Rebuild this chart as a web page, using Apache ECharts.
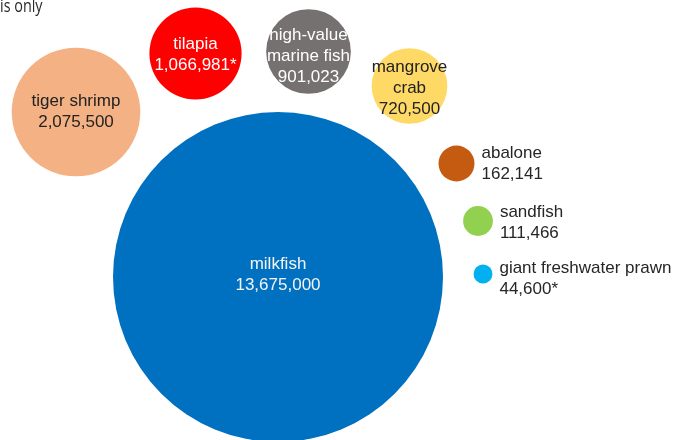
<!DOCTYPE html>
<html>
<head>
<meta charset="utf-8">
<script src="https://cdn.jsdelivr.net/npm/echarts@6/dist/echarts.min.js"></script>
<style>
  html, body { margin: 0; padding: 0; background: #ffffff; }
  #chart { width: 686px; height: 440px; }
</style>
</head>
<body>
<div id="chart"></div>
<script>
// Aquaculture production by species (values as published; * marks estimates)
const species = ['milkfish', 'tiger shrimp', 'tilapia', 'high-value\nmarine fish', 'mangrove\ncrab', 'abalone', 'sandfish', 'giant freshwater prawn'];
const production = [13675000, 2075500, 1066981, 901023, 720500, 162141, 111466, 44600];
const marks = ['', '', '*', '', '', '', '', '*'];

// Bubble layout: centre of each bubble in the plot's layout units
const layoutX = [278, 76, 195.5, 308.5, 409.5, 456.5, 478, 483];
const layoutY = [277, 112, 53.5, 51.5, 86, 163.5, 221, 274];
const fills = ['#0070C0', '#F4B183', '#FF0000', '#767171', '#FFD966', '#C55A11', '#92D050', '#00B0F0'];
const textColors = ['#F4F4F4', '#222222', '#FFFFFF', '#FFFFFF', '#222222', '#262626', '#262626', '#262626'];
const outside = [false, false, false, false, false, true, true, true];
const labelShift = [-2, 0, 1, 5, 2, 0, 2, 5];

const maxValue = Math.max(...production);
const maxRadius = 165;

const fmt = v => v.toLocaleString('en-US');

const data = species.map((name, i) => ({
  name: name,
  value: [layoutX[i], layoutY[i], production[i]],
  itemStyle: { color: fills[i], opacity: 1 },
  label: {
    show: true,
    position: outside[i] ? 'right' : 'inside',
    distance: 7,
    align: outside[i] ? 'left' : 'center',
    offset: [0, labelShift[i]],
    color: textColors[i],
    formatter: name + '\n' + fmt(production[i]) + marks[i]
  }
}));

const chart = echarts.init(document.getElementById('chart'), null, { renderer: 'canvas' });
chart.setOption({
  animation: false,
  backgroundColor: '#ffffff',
  grid: { left: 0, right: 0, top: 0, bottom: 0 },
  xAxis: { type: 'value', min: 0, max: 686, show: false },
  yAxis: { type: 'value', min: 0, max: 440, inverse: true, show: false },
  graphic: [{
    type: 'text',
    x: 0,
    y: 7,
    scaleX: 0.8,
    style: {
      text: 'is only',
      fontSize: 18,
      fontWeight: 500,
      fontFamily: '"Open Sans", sans-serif',
      fill: '#2b2b2b',
      verticalAlign: 'middle'
    }
  }],
  series: [{
    type: 'scatter',
    data: data,
    symbol: 'circle',
    symbolSize: val => 2 * maxRadius * Math.sqrt(val[2] / maxValue),
    label: {
      fontFamily: '"Liberation Sans", Arial, sans-serif',
      fontSize: 17,
      lineHeight: 21
    },
    emphasis: { disabled: true },
    silent: true
  }]
});
</script>
</body>
</html>
